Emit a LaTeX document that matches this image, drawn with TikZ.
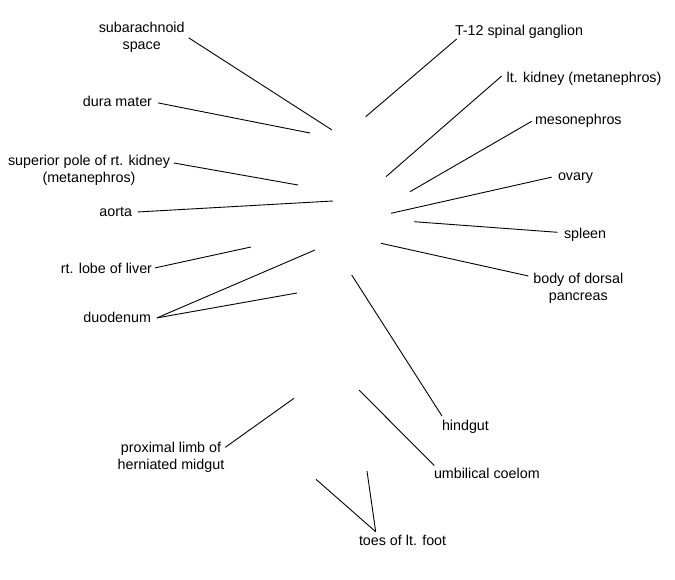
\documentclass[tikz,border=0pt]{standalone}
\usepackage{fontspec}
\setmainfont{Liberation Sans}
\begin{document}
\begin{tikzpicture}[x=1pt,y=-1pt,
  lbl/.style={inner sep=0pt,outer sep=0pt,align=center,font=\fontsize{14.3}{17}\selectfont},
  lead/.style={draw=black,line width=0.9pt}]
\path[use as bounding box,fill=white] (0,0) rectangle (675,580);
% labels, left side
\node[lbl,anchor=center]    (sub)   at (141.7,37.8) {subarachnoid\\space};
\node[lbl,anchor=base east] (dura)  at (152,107) {dura mater};
\node[lbl,anchor=center]    (sup)   at (89,170.8) {superior pole of rt. kidney\\(metanephros)};
\node[lbl,anchor=base east] (aorta) at (132,216.5) {aorta};
\node[lbl,anchor=base east] (liver) at (152,273) {rt. lobe of liver};
\node[lbl,anchor=base east] (duo)   at (151,323) {duodenum};
\node[lbl,anchor=center]    (prox)  at (171,457.3) {proximal limb of\\herniated midgut};
% labels, right side
\node[lbl,anchor=base west] (T12)    at (455,36) {T-12 spinal ganglion};
\node[lbl,anchor=base west] (ltk)    at (506.7,83) {lt. kidney (metanephros)};
\node[lbl,anchor=base west] (meso)   at (535,125) {mesonephros};
\node[lbl,anchor=base west] (ovary)  at (558,180.5) {ovary};
\node[lbl,anchor=base west] (spleen) at (564,238.3) {spleen};
\node[lbl,anchor=center]    (body)   at (578.3,288.1) {body of dorsal\\pancreas};
\node[lbl,anchor=base west] (hind)   at (442,430) {hindgut};
\node[lbl,anchor=base west] (umb)    at (434,478) {umbilical coelom};
\node[lbl,anchor=base west] (toes)   at (359,545.5) {toes of lt. foot};
% free ends of the leader lines
\coordinate (pSub)    at (332,130);
\coordinate (pDura)   at (310,133);
\coordinate (pSup)    at (298,185);
\coordinate (pAorta)  at (333,201);
\coordinate (pLiver)  at (251,247);
\coordinate (pDuoA)   at (315,250);
\coordinate (pDuoB)   at (297,293);
\coordinate (pProx)   at (294,398.3);
\coordinate (pT12)    at (365.7,116.7);
\coordinate (pLtk)    at (386,176.7);
\coordinate (pMeso)   at (410,191.7);
\coordinate (pOvary)  at (391,213.3);
\coordinate (pSpleen) at (414,221.7);
\coordinate (pBody)   at (381,243.3);
\coordinate (pHind)   at (351.7,275);
\coordinate (pUmb)    at (359,390);
\coordinate (pToesA)  at (316,479.3);
\coordinate (pToesB)  at (367,471);
% leader lines
\draw[lead] ([xshift=4pt]sub.east) -- (pSub);
\draw[lead] ([xshift=6pt,yshift=-1pt]dura.east) -- (pDura);
\draw[lead] ([xshift=4pt,yshift=7.8pt]sup.east) -- (pSup);
\draw[lead] ([xshift=6pt]aorta.east) -- (pAorta);
\draw[lead] ([xshift=3pt]liver.east) -- (pLiver);
\draw[lead] ([xshift=6pt]duo.east) -- (pDuoA);
\draw[lead] ([xshift=6pt]duo.east) -- (pDuoB);
\draw[lead] ([xshift=1pt,yshift=-5.2pt]prox.north east) -- (pProx);
\draw[lead] ([xshift=1.7pt]T12.south west) -- (pT12);
\draw[lead] ([xshift=-5pt,yshift=3.3pt]ltk.west) -- (pLtk);
\draw[lead] ([xshift=-3.3pt]meso.west) -- (pMeso);
\draw[lead] ([xshift=-6.3pt,yshift=1pt]ovary.west) -- (pOvary);
\draw[lead] ([xshift=-6.3pt,yshift=2.3pt]spleen.west) -- (pSpleen);
\draw[lead] ([xshift=-5pt,yshift=12.1pt]body.west) -- (pBody);
\draw[lead] ([yshift=3.6pt]hind.north west) -- (pHind);
\draw[lead] ([xshift=0.3pt,yshift=2pt]umb.north west) -- (pUmb);
\draw[lead] ([xshift=16.7pt,yshift=3.4pt]toes.north west) -- (pToesA);
\draw[lead] ([xshift=16.7pt,yshift=3.4pt]toes.north west) -- (pToesB);
\end{tikzpicture}
\end{document}
